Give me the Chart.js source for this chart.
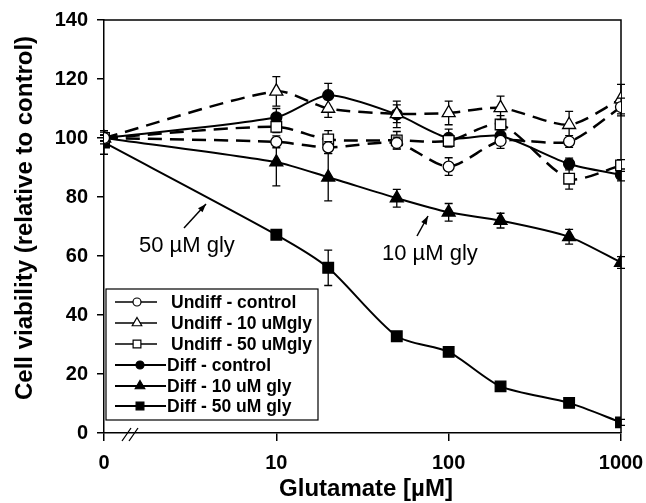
<!DOCTYPE html>
<html>
<head>
<meta charset="utf-8">
<script src="https://cdn.jsdelivr.net/npm/chart.js@4.4.0/dist/chart.umd.min.js"></script>
<style>
  html, body { margin: 0; padding: 0; background: #fff; }
</style>
</head>
<body>
<canvas id="viabilityChart" width="646" height="503"></canvas>
<script>
  // glutamate concentration in uM, 0 is put where 1 would sit on the log axis
  const glutamate = [0, 10, 20, 50, 100, 200, 500, 1000];
  const xTicks = [0, 10, 100, 1000];
  const yTicks = [0, 20, 40, 60, 80, 100, 120, 140];

  const undiffControl    = [100, 98.7, 96.8, 98.3, 90.3, 99.0, 98.8, 110.5];
  const undiffControlErr = [1, 2, 2, 2, 3, 2.5, 2, 3];
  const undiff10         = [100, 115.8, 110.0, 108.2, 108.5, 110.2, 104.5, 113.2];
  const undiff10Err      = [1, 5, 3, 3, 4, 4, 4.5, 5];
  const undiff50         = [100, 103.8, 99.5, 99.2, 99.0, 104.6, 86.2, 90.7];
  const undiff50Err      = [1, 2, 3, 3, 2, 3, 3.5, 2];
  const diffControl      = [100, 107.0, 114.5, 108.0, 100.0, 100.7, 91.2, 87.5];
  const diffControlErr   = [1, 3, 4, 4.5, 3, 2, 2, 2];
  const diff10           = [100, 91.8, 86.7, 79.6, 74.8, 72.0, 66.5, 57.8];
  const diff10Err        = [2, 8, 8, 3, 3, 2.5, 2.5, 2];
  const diff50           = [98.5, 67.2, 56.0, 32.8, 27.5, 15.8, 10.2, 3.6];
  const diff50Err        = [4, 1.5, 6, 1, 1.5, 1, 1, 1];

  const xPos = c => (c === 0 ? 1 : c);

  function makeSet(label, values, errs, shape, filled, dashed) {
    return {
      label: label,
      data: glutamate.map((c, i) => ({ x: xPos(c), y: values[i] })),
      errors: errs,
      borderColor: '#000',
      borderWidth: dashed ? 2.5 : 2,
      borderDash: dashed ? [14, 8] : [],
      tension: 0.25,
      pointStyle: shape,
      pointRadius: shape === 'circle' ? 5.5 : 7.5,
      pointBackgroundColor: filled ? '#000' : '#fff',
      pointBorderColor: '#000',
      pointBorderWidth: 1.3,
      legendRadius: shape === 'circle' ? 4 : 5.5,
      dashedSet: dashed
    };
  }

  const errorBars = {
    id: 'errorBars',
    beforeDatasetDraw(chart, args) {
      const ds = chart.data.datasets[args.index];
      const y = chart.scales.y;
      const ctx = chart.ctx;
      ctx.save();
      ctx.strokeStyle = '#000';
      ctx.lineWidth = 1.3;
      args.meta.data.forEach((pt, i) => {
        const v = ds.data[i].y, e = ds.errors[i];
        const top = y.getPixelForValue(v + e), bot = y.getPixelForValue(v - e);
        ctx.beginPath();
        ctx.moveTo(pt.x, top); ctx.lineTo(pt.x, bot);
        ctx.moveTo(pt.x - 4, top); ctx.lineTo(pt.x + 4, top);
        ctx.moveTo(pt.x - 4, bot); ctx.lineTo(pt.x + 4, bot);
        ctx.stroke();
      });
      ctx.restore();
    }
  };

  const frame = {
    id: 'frame',
    beforeDatasetsDraw(chart) {
      const a = chart.chartArea, ctx = chart.ctx;
      ctx.save();
      ctx.strokeStyle = '#000';
      ctx.lineWidth = 1.5;
      ctx.beginPath();
      ctx.moveTo(a.left, a.top); ctx.lineTo(a.right, a.top); ctx.lineTo(a.right, a.bottom);
      ctx.stroke();
      // axis break
      ctx.lineWidth = 1.3;
      ctx.beginPath();
      [a.left + 18, a.left + 25].forEach(bx => {
        ctx.moveTo(bx, a.bottom + 8); ctx.lineTo(bx + 9, a.bottom - 5);
      });
      ctx.stroke();
      ctx.restore();
    },
    afterDraw(chart) {
      const ctx = chart.ctx;
      ctx.save();
      ctx.fillStyle = '#000';
      ctx.font = 'bold 24px "Liberation Sans", Arial, sans-serif';
      ctx.textAlign = 'center';
      ctx.textBaseline = 'middle';
      ctx.fillText('Glutamate [\u00B5M]', 366, 489);
      ctx.translate(25, 218);
      ctx.rotate(-Math.PI / 2);
      ctx.fillText('Cell viability (relative to control)', 0, 0);
      ctx.restore();

      // annotations
      ctx.save();
      ctx.fillStyle = '#000';
      ctx.strokeStyle = '#000';
      ctx.font = '22px "Liberation Sans", Arial, sans-serif';
      ctx.textBaseline = 'alphabetic';
      ctx.fillText('50 \u00B5M gly', 139, 252);
      ctx.fillText('10 \u00B5M gly', 382, 260);
      const arrow = (x1, y1, x2, y2) => {
        const ang = Math.atan2(y2 - y1, x2 - x1);
        ctx.lineWidth = 1.5;
        ctx.beginPath(); ctx.moveTo(x1, y1); ctx.lineTo(x2, y2); ctx.stroke();
        ctx.beginPath();
        ctx.moveTo(x2, y2);
        ctx.lineTo(x2 - 9 * Math.cos(ang - 0.35), y2 - 9 * Math.sin(ang - 0.35));
        ctx.lineTo(x2 - 9 * Math.cos(ang + 0.35), y2 - 9 * Math.sin(ang + 0.35));
        ctx.closePath(); ctx.fill();
      };
      arrow(184, 228, 206, 204);
      arrow(417, 236, 428, 216);
      ctx.restore();
    }
  };

  const boxLegend = {
    id: 'boxLegend',
    afterDraw(chart) {
      const ctx = chart.ctx;
      const rows = [302, 323, 344, 365, 386, 406];
      ctx.save();
      ctx.fillStyle = '#fff';
      ctx.fillRect(106, 289, 212, 131);
      ctx.strokeStyle = '#000';
      ctx.lineWidth = 1.2;
      ctx.strokeRect(106, 289, 212, 131);
      chart.data.datasets.forEach((ds, i) => {
        const y = rows[i];
        const x2 = ds.dashedSet ? 157 : 166;
        const mx = ds.dashedSet ? 137 : 140;
        ctx.strokeStyle = '#000';
        ctx.lineWidth = ds.dashedSet ? 1.3 : 2;
        ctx.beginPath(); ctx.moveTo(115, y); ctx.lineTo(x2, y); ctx.stroke();
        ctx.fillStyle = ds.pointBackgroundColor;
        ctx.lineWidth = 1.2;
        Chart.helpers.drawPoint(ctx, { pointStyle: ds.pointStyle, radius: ds.legendRadius, borderWidth: 1.2, rotation: 0 }, mx, y);
        ctx.fillStyle = '#000';
        ctx.font = 'bold 17.5px "Liberation Sans", Arial, sans-serif';
        ctx.textBaseline = 'middle';
        ctx.fillText(ds.label, ds.dashedSet ? 171 : 167, y + 1);
      });
      ctx.restore();
    }
  };

  const tickFont = { family: '"Liberation Sans", Arial, sans-serif', size: 20, weight: 'bold' };

  var ctx = document.getElementById('viabilityChart');
  var myChart = new Chart(ctx, {
    type: 'line',
    data: {
      datasets: [
        makeSet('Undiff - control', undiffControl, undiffControlErr, 'circle', false, true),
        makeSet('Undiff - 10 uMgly', undiff10, undiff10Err, 'triangle', false, true),
        makeSet('Undiff - 50 uMgly', undiff50, undiff50Err, 'rect', false, true),
        makeSet('Diff - control', diffControl, diffControlErr, 'circle', true, false),
        makeSet('Diff - 10 uM gly', diff10, diff10Err, 'triangle', true, false),
        makeSet('Diff - 50 uM gly', diff50, diff50Err, 'rect', true, false)
      ]
    },
    options: {
      responsive: false,
      animation: false,
      layout: { padding: { left: 0, right: 25, top: 20, bottom: 0 } },
      plugins: { legend: { display: false }, tooltip: { enabled: false } },
      scales: {
        x: {
          type: 'logarithmic',
          min: 1,
          max: 1000,
          afterBuildTicks: s => { s.ticks = xTicks.map(v => ({ value: xPos(v) })); },
          afterFit: s => { s.height = 70; s.paddingLeft = 0; s.paddingRight = 0; },
          ticks: {
            autoSkip: false, maxRotation: 0, color: '#000', font: tickFont, padding: 10,
            callback: v => (v === 1 ? '0' : String(v))
          },
          grid: { drawOnChartArea: false, tickLength: 8, color: '#000', lineWidth: 1.5 },
          border: { color: '#000', width: 1.5 }
        },
        y: {
          min: 0,
          max: 140,
          afterBuildTicks: s => { s.ticks = yTicks.map(v => ({ value: v })); },
          afterFit: s => { s.width = 104; s.paddingTop = 0; s.paddingBottom = 0; },
          ticks: { color: '#000', font: tickFont, padding: 9 },
          grid: { drawOnChartArea: false, tickLength: 7, color: '#000', lineWidth: 1.5 },
          border: { color: '#000', width: 1.5 }
        }
      }
    },
    plugins: [errorBars, frame, boxLegend]
  });
</script>
</body>
</html>
